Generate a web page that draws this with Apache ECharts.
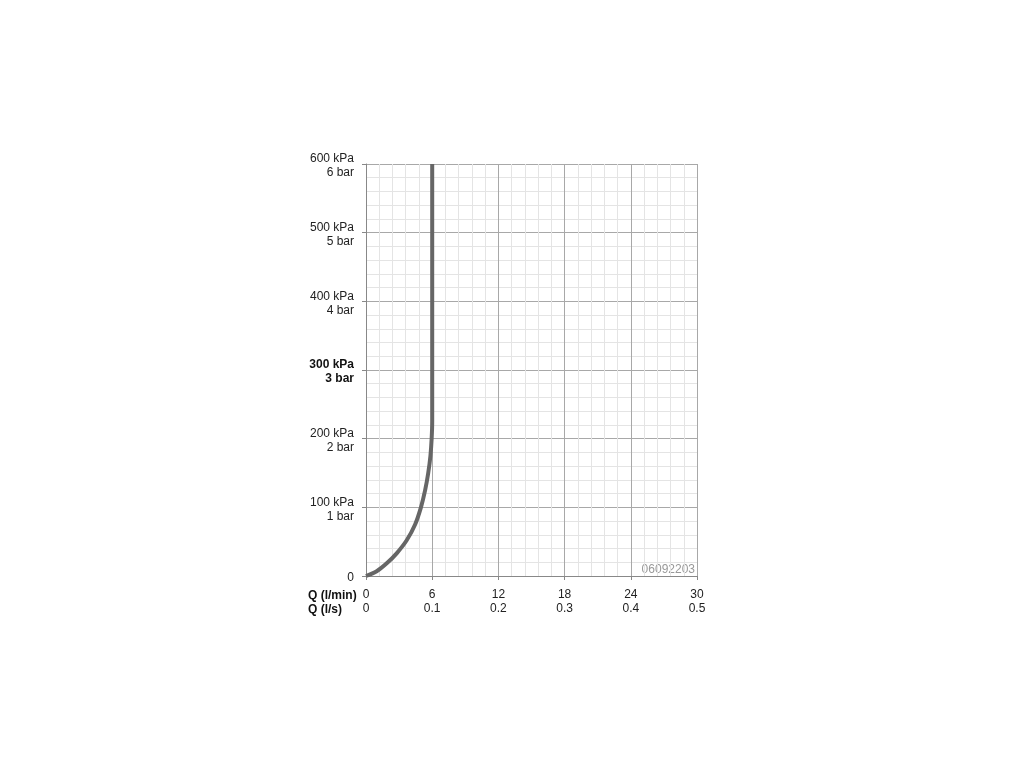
<!DOCTYPE html>
<html>
<head>
<meta charset="utf-8">
<script src="https://cdn.jsdelivr.net/npm/echarts@6/dist/echarts.min.js"></script>
<style>
html,body{margin:0;padding:0;background:#fff;}
#chart{width:1024px;height:768px;}
</style>
</head>
<body>
<div id="chart"></div>
<script>
// Flow Q (l/min) vs pressure (kPa)
const flowLmin = [0, 0.97, 1.88, 2.78, 3.69, 4.45, 4.98, 5.36, 5.64, 5.84, 5.95, 6.0, 6.0];
const pressureKPa = [0, 7, 18.5, 33, 52, 75, 100, 125, 150, 175, 200, 225, 600];

const xTickLmin = ['0', '6', '12', '18', '24', '30'];
const xTickLs = ['0', '0.1', '0.2', '0.3', '0.4', '0.5'];
const yTickKPa = ['0', '100 kPa', '200 kPa', '300 kPa', '400 kPa', '500 kPa', '600 kPa'];
const yTickBar = ['', '1 bar', '2 bar', '3 bar', '4 bar', '5 bar', '6 bar'];
const boldTick = 3;
const codeLabel = '06092203';

const chart = echarts.init(document.getElementById('chart'));
const font = 'Liberation Sans, Arial, Helvetica, sans-serif';

chart.setOption({
  animation: false,
  backgroundColor: '#fff',
  textStyle: { fontFamily: font },
  grid: { left: 366, right: 327, top: 164, bottom: 192, containLabel: false },
  xAxis: {
    type: 'value', min: 0, max: 30, interval: 6,
    axisLine: { show: true, lineStyle: { color: '#888', width: 1 } },
    axisTick: { show: true, length: 4, lineStyle: { color: '#888' } },
    axisLabel: {
      margin: 12, color: '#222', fontSize: 12, lineHeight: 14, fontFamily: font,
      formatter: (v) => { const i = Math.round(v / 6); return xTickLmin[i] + '\n' + xTickLs[i]; }
    },
    splitLine: { show: true, lineStyle: { color: '#a8a8a8', width: 1 } },
    minorTick: { show: false, splitNumber: 5 },
    minorSplitLine: { show: true, lineStyle: { color: '#e4e4e4', width: 1 } }
  },
  yAxis: {
    type: 'value', min: 0, max: 600, interval: 100,
    axisLine: { show: true, lineStyle: { color: '#888', width: 1 } },
    axisTick: { show: true, length: 4, lineStyle: { color: '#888' } },
    axisLabel: {
      margin: 12, color: '#222', fontSize: 12, lineHeight: 14, align: 'right', fontFamily: font,
      padding: [4, 0, 0, 0],
      formatter: (v) => {
        const i = Math.round(v / 100);
        if (i === 0) return yTickKPa[0];
        if (i === boldTick) return '{b|' + yTickKPa[i] + '}\n{b|' + yTickBar[i] + '}';
        return yTickKPa[i] + '\n' + yTickBar[i];
      },
      rich: { b: { fontWeight: 'bold', fontSize: 12, lineHeight: 14, color: '#111', fontFamily: font, align: 'right' } }
    },
    splitLine: { show: true, lineStyle: { color: '#a8a8a8', width: 1 } },
    minorTick: { show: false, splitNumber: 5 },
    minorSplitLine: { show: true, lineStyle: { color: '#e4e4e4', width: 1 } }
  },
  graphic: [
    {
      type: 'text', left: 308, top: 589,
      style: { text: 'Q (l/min)\nQ (l/s)', font: 'bold 12px ' + font, fill: '#111', lineHeight: 14 }
    },
    {
      type: 'text', right: 329, top: 564,
      style: { text: codeLabel, font: '12px ' + font, fill: '#999' }
    }
  ],
  series: [{
    type: 'line',
    data: flowLmin.map((q, i) => [q, pressureKPa[i]]),
    smooth: 0.3,
    showSymbol: false,
    lineStyle: { color: '#666', width: 4 },
    z: 5
  }]
});
</script>
</body>
</html>
